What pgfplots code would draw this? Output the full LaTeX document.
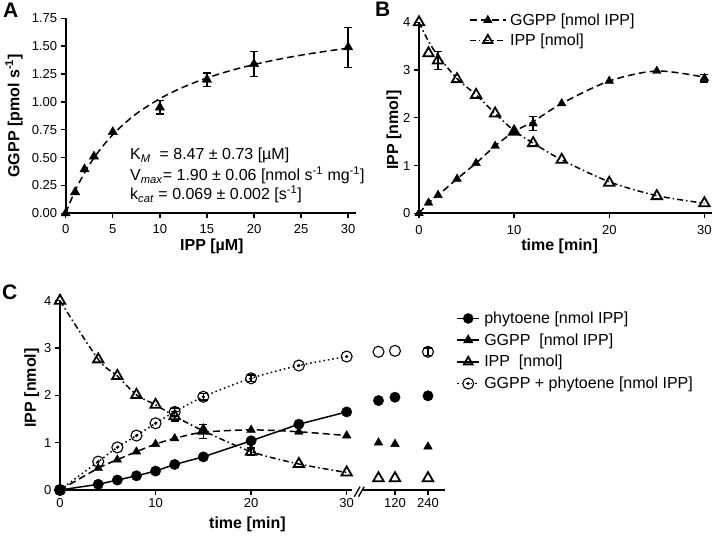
\documentclass[border=0pt]{standalone}
\usepackage{pgfplots}
\pgfplotsset{compat=1.18}
\usepackage{fontspec}
\setmainfont{Liberation Sans}
\pgfdeclareplotmark{odot}{%
  \pgfpathcircle{\pgfpointorigin}{\pgfplotmarksize}\pgfusepathqstroke
  \pgfpathcircle{\pgfpointorigin}{0.9pt}\pgfusepathqfillstroke}
\pgfplotsset{
 panel/.style={scale only axis, anchor=south west, axis lines=left,
   axis line style={-, line width=1.7pt}, tick align=outside, major tick length=5pt,
   tick style={line width=1.4pt, black}, clip=false,
   /pgf/number format/assume math mode=true,
   tick label style={font=\fontsize{13}{15}\selectfont},
   label style={font=\fontsize{16}{18}\selectfont\bfseries}},
 ebar/.style={error bars/.cd, y dir=both, y explicit,
   error bar style={line width=1.4pt, solid}, error mark options={rotate=90, line width=1.4pt, mark size=4pt, solid}, /pgfplots/.cd},
 dashA/.style={black, line width=1.5pt, dash pattern=on 7pt off 4pt},
 dashdot/.style={black, line width=1.5pt, dash pattern=on 6pt off 3pt on 1.5pt off 3pt},
 dotl/.style={black, line width=1.5pt, dash pattern=on 1.5pt off 3pt},
 ftri/.style={black, mark=triangle*, mark size=5pt, mark options={solid}},
 otri/.style={black, mark=triangle, mark size=6pt, mark options={solid, line width=1.8pt, fill=white}},
 fcirc/.style={black, mark=*, mark size=5.2pt, mark options={solid}},
 ocirc/.style={black, mark=odot, mark size=5.5pt, mark options={solid, line width=1.1pt, fill=black}},
 limg/.style={legend image code/.code={\draw[mark repeat=2, mark phase=2, ##1] plot coordinates {(0pt,0pt)(#1,0pt)(2*#1,0pt)};}}
}
\begin{document}
\begin{tikzpicture}
\useasboundingbox (0,0) rectangle (715pt,537pt);
% ---------------- Panel A ----------------
\begin{axis}[panel, at={(65.7pt,323.7pt)}, width=290pt, height=195pt,
  xmin=0, xmax=30.8, ymin=0, ymax=1.75,
  xtick={0,5,10,15,20,25,30}, ytick={0,0.25,0.5,0.75,1,1.25,1.5,1.75},
  yticklabel style={/pgf/number format/.cd, fixed, fixed zerofill, precision=2},
  xticklabel style={yshift=-3pt},
  xlabel={IPP [µM]}, ylabel={GGPP [pmol s\textsuperscript{-1}]},
  xlabel style={at={(axis description cs:0.504,-0.168)}, anchor=center},
  ylabel style={at={(axis description cs:-0.178,0.5)}, anchor=center}]
\addplot[dashA, smooth] coordinates {(0,0)(0.5,0.1059)(1,0.2006)(1.5,0.2859)(2,0.3629)(3,0.4970)(4,0.6095)(5,0.7053)(6,0.7878)(7,0.8597)(8,0.9229)(10,1.0287)(12,1.1138)(14,1.1838)(16,1.2423)(18,1.2920)(20,1.3347)(22,1.3719)(24,1.4044)(26,1.4331)(28,1.4587)(30,1.4817)};
\addplot[ftri, only marks, mark size=5.4pt, ebar] coordinates {(0,0) (1,0.19) (2,0.395) (3,0.51) (5,0.73) (10,0.95)+-(0,0.06) (15,1.20)+-(0,0.06) (20,1.34)+-(0,0.11) (30,1.49)+-(0,0.18)};
\end{axis}
\node[anchor=base west, font=\fontsize{16}{18}\selectfont, inner sep=0] at (130pt,377pt) {K\textsubscript{\textit{M}}\ \ = 8.47 ± 0.73 [µM]};
\node[anchor=base west, font=\fontsize{16}{18}\selectfont, inner sep=0] at (130pt,356.5pt) {V\textsubscript{\textit{max}}= 1.90 ± 0.06 [nmol s\textsuperscript{-1} mg\textsuperscript{-1}]};
\node[anchor=base west, font=\fontsize{16}{18}\selectfont, inner sep=0] at (130pt,337pt) {k\textsubscript{\textit{cat}} = 0.069 ± 0.002 [s\textsuperscript{-1}]};
\node[anchor=north west, font=\fontsize{21}{24}\selectfont\bfseries, inner sep=0] at (3pt,534pt) {A};
% ---------------- Panel B ----------------
\begin{axis}[panel, at={(419pt,323.7pt)}, width=293pt, height=191pt,
  xmin=0, xmax=30.8, ymin=0, ymax=4,
  xtick={0,10,20,30}, ytick={0,1,2,3,4},
  xticklabel style={yshift=-4pt},
  xlabel={time [min]}, ylabel={IPP [nmol]},
  xlabel style={at={(axis description cs:0.48,-0.171)}, anchor=center},
  ylabel style={at={(axis description cs:-0.085,0.436)}, anchor=center},
  legend style={at={(axis description cs:0.16,1.075)}, anchor=north west, draw=none, fill=none,
    font=\fontsize{16}{18}\selectfont, row sep=0pt, nodes={inner sep=3.5pt}},
  legend cell align=left]
\addlegendimage{dashA, ftri, mark size=4pt, limg=18pt}
\addlegendentry{GGPP [nmol IPP]}
\addlegendimage{dashdot, otri, mark size=5.5pt, limg=18pt}
\addlegendentry{IPP [nmol]}
\addplot[dashA, smooth, forget plot] coordinates {(0,0)(1,0.22)(2,0.38)(4,0.72)(6,1.05)(8,1.41)(10,1.71)(12,1.92)(15,2.30)(20,2.77)(25,2.98)(30,2.85)};
\addplot[ftri, only marks, ebar, forget plot] coordinates {(0,0)(1,0.22)(2,0.38)(4,0.72)(6,1.05)(8,1.41)(10,1.71)(12,1.88)+-(0,0.15)(15,2.30)(20,2.77)(25,2.98)(30,2.83)+-(0,0.08)};
\addplot[dashdot, smooth, forget plot] coordinates {(0,4)(1,3.6)(2,3.3)(4,2.82)(6,2.48)(8,2.09)(10,1.73)(12,1.47)(15,1.12)(20,0.66)(25,0.37)(30,0.21)};
\addplot[otri, only marks, ebar, forget plot] coordinates {(0,4.0)(1,3.35)(2,3.2)+-(0,0.19)(4,2.81)(6,2.48)(8,2.09)(10,1.71)(12,1.47)(15,1.12)(20,0.64)(25,0.36)(30,0.21)};
\end{axis}
\node[anchor=north west, font=\fontsize{21}{24}\selectfont\bfseries, inner sep=0] at (375pt,535pt) {B};
% ---------------- Panel C ----------------
\begin{axis}[panel, at={(60pt,47pt)}, width=292.4pt, height=189.3pt,
  xmin=0, xmax=30.6, ymin=0, ymax=4,
  xtick={0,10,20,30}, ytick={0,1,2,3,4},
  xlabel={time [min]}, ylabel={IPP [nmol]},
  xlabel style={at={(axis description cs:0.641,-0.18)}, anchor=center},
  ylabel style={at={(axis description cs:-0.097,0.539)}, anchor=center},
  legend style={at={(axis description cs:1.345,0.975)}, anchor=north west, draw=none, fill=none,
    font=\fontsize{16}{18}\selectfont, row sep=0pt, nodes={inner sep=4.3pt}},
  legend cell align=left]
\addlegendimage{black, line width=1.5pt, solid, fcirc, mark size=4.5pt, limg=11pt}
\addlegendentry{phytoene [nmol IPP]}
\addlegendimage{black, line width=1.5pt, solid, ftri, mark size=4.5pt, limg=11pt}
\addlegendentry{GGPP\ \ [nmol IPP]}
\addlegendimage{black, line width=1.5pt, solid, otri, mark size=5pt, limg=11pt}
\addlegendentry{IPP\ \ [nmol]}
\addlegendimage{dotl, ocirc, limg=11pt}
\addlegendentry{GGPP + phytoene [nmol IPP]}
\addplot[black, line width=1.5pt, forget plot] coordinates {(0,0)(4,0.12)(6,0.21)(8,0.30)(10,0.40)(12,0.54)(15,0.70)(20,1.04)(25,1.39)(30,1.65)};
\addplot[dotl, smooth, forget plot] coordinates {(0,0)(4,0.60)(6,0.90)(8,1.15)(10,1.41)(12,1.65)(15,1.97)(20,2.36)(25,2.63)(30,2.82)};
\addplot[dashA, smooth, forget plot] coordinates {(0,0)(4,0.46)(6,0.64)(8,0.81)(10,0.97)(12,1.09)(15,1.22)(20,1.27)(25,1.23)(30,1.15)};
\addplot[dashdot, smooth, forget plot] coordinates {(0,4.0)(4,2.76)(6,2.41)(8,2.01)(10,1.80)(12,1.56)(15,1.25)(20,0.81)(25,0.55)(30,0.37)};
\addplot[ocirc, only marks, ebar, forget plot] coordinates {(0,0)(4,0.60)(6,0.90)(8,1.15)(10,1.41)(12,1.65)+-(0,0.08)(15,1.97)+-(0,0.07)(20,2.36)+-(0,0.07)(25,2.63)(30,2.82)};
\addplot[otri, only marks, ebar, forget plot] coordinates {(0,4.0)(4,2.76)(6,2.41)(8,2.01)(10,1.80)(12,1.56)+-(0,0.1)(15,1.25)(20,0.81)+-(0,0.08)(25,0.55)(30,0.37)};
\addplot[ftri, only marks, ebar, forget plot] coordinates {(0,0)(4,0.46)(6,0.64)(8,0.81)(10,0.97)(12,1.09)(15,1.24)+-(0,0.15)(20,1.27)(25,1.23)(30,1.15)};
\addplot[fcirc, only marks, forget plot] coordinates {(0,0)(4,0.12)(6,0.21)(8,0.30)(10,0.40)(12,0.54)(15,0.70)(20,1.04)(25,1.39)(30,1.65)};
\end{axis}
\begin{axis}[panel, at={(362pt,47pt)}, width=83pt, height=189.3pt,
  xmin=0, xmax=302, ymin=0, ymax=4, axis y line=none, axis x line*=bottom,
  xtick={120,240}, ytick=\empty]
\addplot[fcirc, only marks] coordinates {(60,1.89)(120,1.96)(240,1.99)};
\addplot[ftri, only marks] coordinates {(60,1.0)(120,0.97)(240,0.915)};
\addplot[otri, only marks] coordinates {(60,0.25)(120,0.25)(240,0.25)};
\addplot[black, mark=o, mark size=5.5pt, mark options={line width=1.1pt}, only marks, ebar] coordinates {(60,2.92)(120,2.94)(240,2.92)+-(0,0.08)};
\end{axis}
\draw[line width=1.3pt] (354.3pt,40.3pt) -- (360pt,50.3pt);
\draw[line width=1.3pt] (358.5pt,40.3pt) -- (364.2pt,50.3pt);
\node[anchor=north west, font=\fontsize{21}{24}\selectfont\bfseries, inner sep=0] at (2pt,252pt) {C};
\end{tikzpicture}
\end{document}
